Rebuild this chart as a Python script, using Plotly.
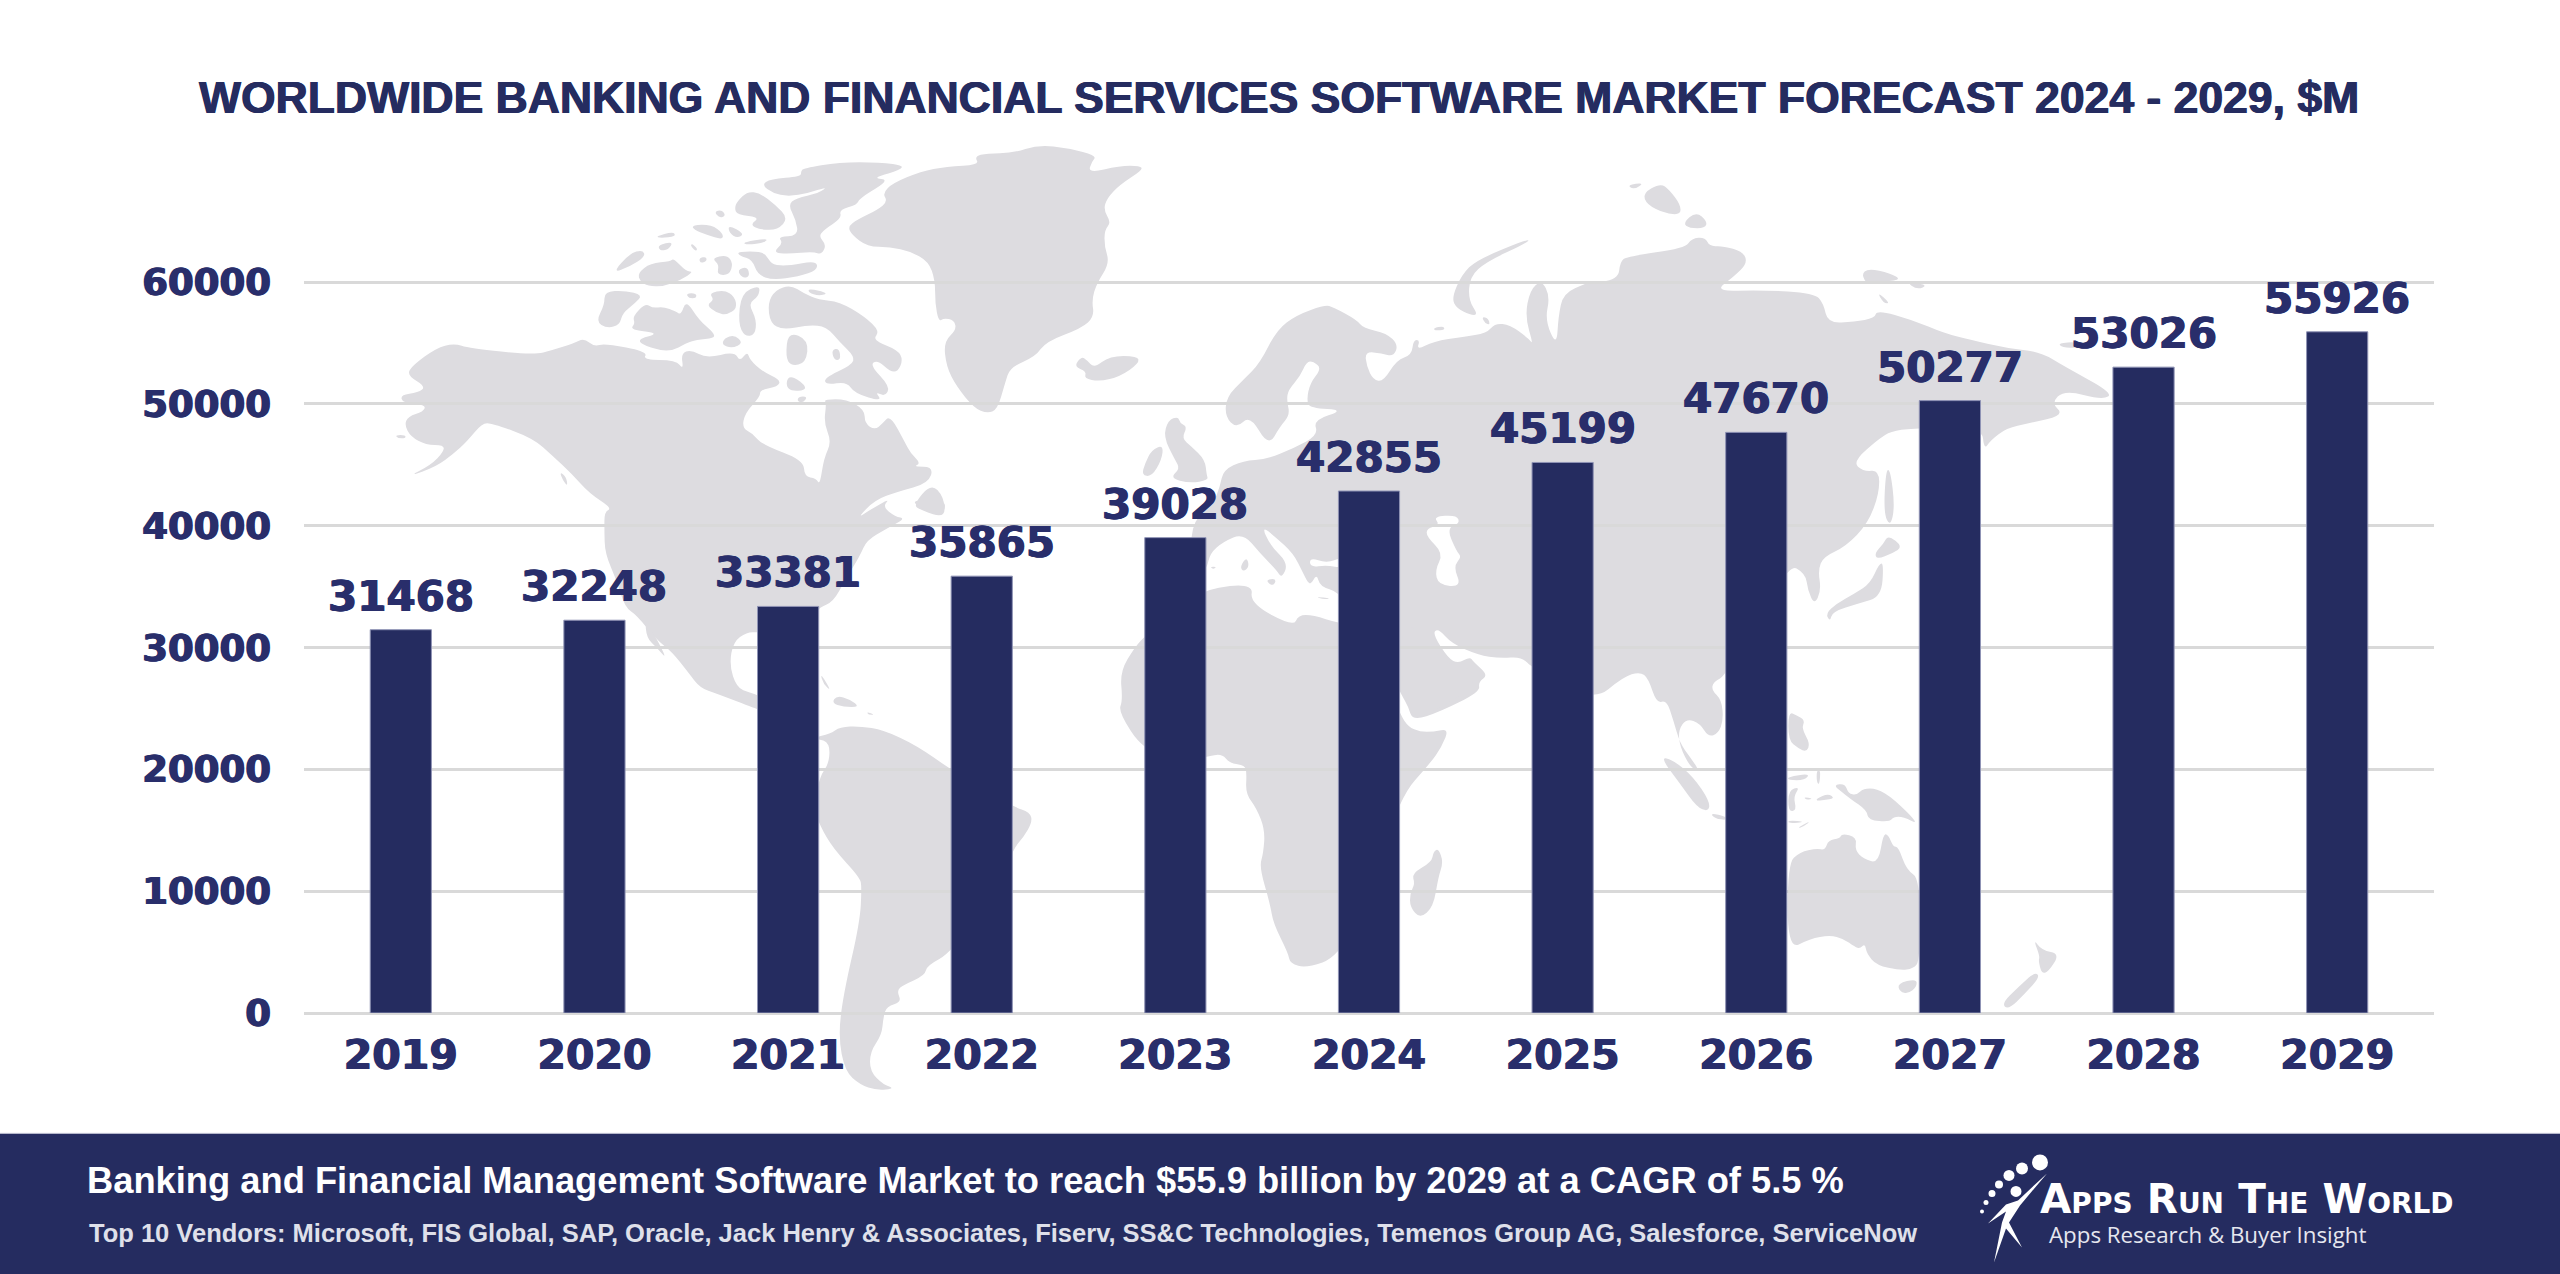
import plotly.graph_objects as go

years = ["2019", "2020", "2021", "2022", "2023", "2024", "2025", "2026", "2027", "2028", "2029"]
market_values = [31468, 32248, 33381, 35865, 39028, 42855, 45199, 47670, 50277, 53026, 55926]
y_ticks = [0, 10000, 20000, 30000, 40000, 50000, 60000]

title_text = "WORLDWIDE BANKING AND FINANCIAL SERVICES SOFTWARE MARKET FORECAST 2024 - 2029, $M"
footer_main = "Banking and Financial Management Software Market to reach $55.9 billion by 2029 at a CAGR of 5.5 %"
footer_vendors = ("Top 10 Vendors: Microsoft, FIS Global, SAP, Oracle, Jack Henry &amp; Associates, Fiserv, "
                  "SS&amp;C Technologies, Temenos Group AG, Salesforce, ServiceNow")

NAVY = "#252c60"
TEXT_NAVY = "#292e6b"
GRID = "#d9d9d9"
MAP = "#dddce0"

# plot area in page pixels. the y range runs a bit past 60000, plotly drops a grid line sitting on the top edge
Y_MAX = 61000
LEFT, RIGHT, BOTTOM = 304, 2434, 1012.7
TOP = BOTTOM - 730.4 * Y_MAX / 60000


def px(x):
    return (x - LEFT) / (RIGHT - LEFT)


def py(y):
    return (BOTTOM - y) / (BOTTOM - TOP)


def z5(pts):
    return [(380 + a / 1.96, 130 + b / 3) for a, b in pts]


def z6(pts):
    return [(600 + a / 3, 500 + b / 2.61) for a, b in pts]


def z7(pts):
    return [(1080 + a / 3, 220 + b / 3) for a, b in pts]


def z8(pts):
    return [(1080 + a / 3, 600 + b / 3) for a, b in pts]


def z9(pts):
    return [(1560 + a / 2.24, 160 + b / 3) for a, b in pts]


def z10(pts):
    return [(1660 + a / 3, 640 + b / 3) for a, b in pts]


def z12(pts):
    return [(1590 + a / 3, 620 + b / 3) for a, b in pts]


def smooth_path(pts):
    # quadratic curves through edge midpoints, keeps the coast lines from looking faceted
    n = len(pts)
    mids = [((pts[i][0] + pts[(i + 1) % n][0]) / 2, (pts[i][1] + pts[(i + 1) % n][1]) / 2) for i in range(n)]
    path = f"M {px(mids[-1][0])},{py(mids[-1][1])}"
    for i in range(n):
        path += f" Q {px(pts[i][0])},{py(pts[i][1])} {px(mids[i][0])},{py(mids[i][1])}"
    return path + " Z"


def straight_path(pts):
    return "M " + " L ".join(f"{px(a)},{py(b)}" for a, b in pts) + " Z"


north_america = (
    z5([(175, 655), (300, 675), (340, 660), (380, 640), (400, 625), (420, 650), (440, 640), (525, 665), (515, 690),
        (580, 690), (595, 720), (590, 670), (610, 660), (640, 685), (695, 665), (705, 695), (720, 665), (725, 690),
        (750, 725), (785, 750), (780, 770), (745, 780), (745, 800), (715, 850), (710, 895), (730, 910), (750, 945),
        (830, 990), (832, 1040), (855, 1045), (862, 1065), (870, 985), (885, 935), (870, 880), (875, 820), (870, 808),
        (915, 808), (950, 840), (950, 880), (970, 900), (985, 880), (1000, 855), (1030, 940), (1040, 970), (1060, 1000),
        (1045, 1010), (1085, 1010), (1075, 1060), (1015, 1085), (970, 1110), (935, 1165), (960, 1140), (1000, 1105),
        (985, 1130), (1010, 1160), (1030, 1165)])
    + z6([(860, 75), (800, 105), (780, 145), (735, 210), (700, 265), (660, 280), (640, 300), (640, 370), (560, 345),
          (475, 345), (440, 345), (400, 370), (388, 430), (410, 490), (450, 503), (480, 510), (480, 548), (470, 545),
          (350, 505), (300, 490), (265, 450), (215, 395), (170, 365), (110, 300), (75, 280), (50, 210), (15, 140),
          (13, 78)])
    + z5([(440, 1145), (455, 1135), (410, 1090), (375, 1030), (340, 980), (300, 925), (220, 880), (200, 880), (170, 935),
          (145, 970), (110, 1010), (55, 1040), (100, 1005), (125, 965), (125, 945), (90, 945), (60, 920), (48, 885),
          (55, 860), (85, 845), (90, 825), (45, 820), (40, 795), (75, 788), (90, 770), (52, 735), (65, 705), (110, 655),
          (145, 640)])
)

south_america = z6([(690, 610), (720, 592), (780, 590), (850, 600), (950, 640), (1055, 705), (1240, 800), (1290, 815),
                    (1297, 840), (1270, 880), (1240, 910), (1200, 1000), (1056, 1180), (980, 1215), (975, 1240),
                    (910, 1265), (890, 1280), (905, 1310), (860, 1320), (850, 1350), (845, 1395), (810, 1440),
                    (810, 1490), (850, 1525), (885, 1535), (830, 1540), (780, 1525), (735, 1490), (715, 1400),
                    (730, 1290), (780, 1100), (785, 1010), (780, 985), (700, 910), (660, 850), (640, 800), (660, 720),
                    (685, 690), (690, 650), (680, 630), (660, 625), (640, 620)])

africa = z8([(198, 105), (165, 140), (120, 215), (128, 300), (115, 335), (190, 450), (300, 480), (381, 470), (425, 460),
             (450, 490), (495, 495), (500, 520), (497, 580), (530, 625), (555, 690), (550, 760), (538, 800), (570, 910),
             (580, 970), (625, 1060), (630, 1090), (680, 1103), (775, 1070), (860, 900), (960, 590), (1050, 490),
             (1085, 440), (1107, 385), (1060, 395), (1020, 395), (985, 380), (962, 345), (900, 200), (850, 70),
             (775, 70), (700, 45), (655, 45), (640, 80), (510, 10), (520, -50), (380, -35), (300, 20)])

eurasia = (
    z7([(430, 965), (390, 1000), (381, 1045), (340, 1090), (330, 1000), (340, 900), (400, 850), (420, 800), (430, 750),
        (490, 722), (560, 718), (640, 685), (715, 645), (700, 600), (795, 570), (690, 565), (680, 540), (690, 490),
        (725, 445), (700, 425), (680, 425), (660, 470), (625, 510), (620, 540), (630, 585), (600, 620), (565, 680),
        (510, 585), (470, 625), (435, 590), (440, 530), (490, 480), (540, 430), (590, 330), (650, 285), (735, 255),
        (760, 262), (830, 300), (850, 325), (920, 340), (955, 375), (940, 410), (905, 400), (855, 395), (860, 440),
        (880, 480), (910, 485), (950, 420), (995, 405), (1000, 360), (1020, 360), (1010, 390), (1060, 365), (1150, 350),
        (1220, 340), (1245, 310), (1290, 315), (1345, 355), (1360, 375), (1335, 290), (1350, 210), (1385, 180),
        (1410, 230), (1395, 300), (1430, 380), (1435, 290), (1450, 220), (1520, 190)])
    + z9([(60, 370), (130, 360), (135, 305), (150, 290), (280, 265), (295, 235), (325, 232), (335, 260), (365, 258),
          (410, 275), (420, 310), (390, 350), (345, 395), (450, 390), (570, 400), (590, 430), (600, 490), (660, 485),
          (705, 475), (710, 450), (790, 480), (860, 520), (920, 540), (1000, 565), (1075, 575), (1130, 620), (1240, 700),
          (1215, 720), (1130, 690), (1100, 730), (1130, 765), (1050, 790), (1000, 805), (965, 840), (950, 870),
          (945, 800), (807, 805), (750, 810), (720, 830), (655, 905), (680, 935), (715, 930), (715, 1000), (690, 1090),
          (640, 1160), (590, 1190), (578, 1230), (585, 1290), (570, 1335), (555, 1290), (550, 1240), (510, 1210)])
    + z12([(410, 165), (370, 185), (365, 210), (395, 240), (400, 300), (385, 340), (355, 350), (330, 310), (290, 295),
           (265, 330), (270, 380), (300, 440), (330, 455), (300, 410), (270, 370), (250, 300), (230, 240), (200, 250),
           (175, 175), (150, 155), (100, 170), (10, 245)])
    + z8([(1358, 205), (1325, 170), (1260, 175), (1195, 165), (1115, 130), (1075, 85), (1057, 100), (1105, 175),
          (1135, 190), (1170, 170), (1180, 185), (1225, 225), (1195, 245), (1200, 275), (1080, 335), (998, 362),
          (985, 320), (962, 280), (900, 150), (850, 70)])
    + z7([(777, 1115), (720, 1100), (710, 1060), (690, 1100), (670, 1060), (640, 1000), (585, 950), (545, 918),
          (570, 975), (625, 1030), (605, 1075), (590, 1050), (540, 1000), (490, 940)])
)

land_shapes = [
    north_america, south_america, africa, eurasia,
    # arabia, fills the gap the smoothed outline leaves along the red sea
    z8([(962, 60), (1040, 110), (1100, 195), (1170, 200), (1190, 250), (1075, 330), (1003, 352), (988, 315), (966, 275)]),
    # greenland, iceland
    z5([(1240, 70), (1290, 45), (1350, 55), (1405, 78), (1395, 95), (1388, 130), (1450, 108), (1490, 108), (1495, 120),
        (1450, 165), (1425, 205), (1418, 240), (1433, 278), (1420, 300), (1420, 350), (1430, 400), (1405, 460),
        (1395, 510), (1400, 560), (1375, 595), (1305, 635), (1285, 680), (1235, 712), (1225, 760), (1210, 840),
        (1190, 850), (1165, 835), (1130, 770), (1110, 710), (1105, 635), (1130, 600), (1125, 570), (1105, 565),
        (1095, 575), (1088, 520), (1088, 450), (1075, 395), (1040, 365), (1000, 352), (955, 350), (925, 315), (917, 290),
        (935, 270), (975, 240), (995, 215), (985, 190), (1005, 160), (1060, 125), (1110, 110), (1175, 105), (1165, 80),
        (1190, 70)]),
    z5([(1375, 680), (1385, 690), (1400, 715), (1430, 678), (1485, 678), (1488, 700), (1450, 740), (1410, 755),
        (1380, 745), (1385, 725), (1360, 710)]),
    # canadian arctic
    z5([(830, 115), (900, 97), (980, 97), (1030, 108), (1010, 125), (965, 145), (1000, 150), (940, 205), (935, 225),
        (900, 240), (905, 265), (870, 300), (860, 320), (875, 345), (865, 375), (850, 365), (800, 372), (770, 368),
        (790, 340), (780, 320), (820, 318), (815, 270), (800, 225), (815, 205), (860, 190), (878, 170), (840, 190),
        (800, 200), (770, 190), (748, 165), (765, 148), (825, 140), (825, 125)]),
    z5([(700, 215), (720, 185), (745, 190), (775, 225), (800, 265), (780, 300), (745, 300), (725, 285), (745, 262),
        (700, 255), (695, 235)]),
    z5([(700, 365), (750, 365), (760, 385), (770, 405), (800, 408), (855, 392), (858, 420), (820, 440), (770, 450),
        (740, 435), (730, 390), (705, 378)]),
    z5([(655, 245), (670, 240), (678, 258), (665, 265)]),
    z5([(612, 285), (650, 285), (672, 310), (672, 330), (640, 315), (615, 300)]),
    z5([(682, 285), (715, 312), (700, 325), (685, 310)]),
    z5([(710, 338), (760, 325), (755, 338), (720, 345)]),
    z5([(540, 320), (575, 305), (580, 320), (550, 325)]),
    z5([(545, 345), (575, 335), (565, 360), (548, 362)]),
    z5([(610, 340), (622, 355), (620, 365), (610, 352)]),
    z5([(625, 385), (640, 380), (640, 395), (628, 400)]),
    z5([(650, 385), (680, 375), (692, 400), (685, 435), (660, 435), (665, 405)]),
    z5([(700, 420), (720, 410), (725, 440), (710, 445)]),
    z5([(455, 430), (490, 370), (515, 360), (520, 380), (490, 410)]),
    z5([(505, 430), (530, 400), (570, 395), (575, 385), (600, 425), (615, 425), (590, 450), (555, 470), (525, 468),
        (510, 455)]),
    z5([(440, 485), (480, 482), (515, 495), (500, 520), (475, 550), (470, 585), (445, 595), (423, 575), (440, 525)]),
    z5([(495, 560), (520, 520), (535, 535), (555, 530), (580, 545), (590, 555), (600, 510), (625, 570), (655, 610),
        (655, 625), (620, 630), (600, 640), (570, 665), (530, 655), (500, 630), (550, 610), (490, 600), (500, 580)]),
    z5([(645, 490), (675, 480), (695, 500), (700, 535), (680, 555), (660, 550), (640, 525), (655, 510)]),
    z5([(600, 490), (620, 490), (620, 505), (605, 505)]),
    z5([(675, 625), (695, 615), (712, 640), (690, 655), (670, 645)]),
    z5([(760, 520), (775, 480), (805, 465), (830, 490), (860, 510), (900, 515), (950, 560), (980, 605), (965, 630),
        (1015, 660), (1025, 690), (1015, 725), (1000, 725), (975, 690), (960, 705), (1000, 770), (990, 800), (970, 785),
        (985, 815), (930, 790), (915, 755), (875, 765), (870, 745), (925, 705), (930, 680), (900, 635), (875, 590),
        (840, 585), (790, 600), (765, 580)]),
    z5([(840, 475), (880, 490), (860, 498), (840, 488)]),
    z5([(885, 660), (900, 655), (903, 690), (890, 690)]),
    z5([(708, 490), (745, 465), (742, 500), (722, 520), (738, 570), (735, 615), (715, 620), (702, 580)]),
    z5([(800, 605), (840, 630), (835, 700), (805, 708), (795, 680)]),
    z5([(800, 728), (845, 780), (795, 785)]),
    z5([(820, 800), (838, 800), (830, 818), (818, 815)]),
    z5([(1080, 1060), (1105, 1100), (1108, 1165), (1060, 1140), (1045, 1125)]),
    z5([(352, 1025), (365, 1040), (368, 1070), (358, 1050)]),
    z5([(30, 915), (50, 915), (50, 925), (35, 925)]),
    # caribbean, newfoundland, baja
    z6([(660, 450), (695, 500), (670, 480)]),
    z6([(710, 510), (750, 520), (780, 540), (730, 540), (695, 530)]),
    z6([(800, 552), (825, 560), (805, 560)]),
    z6([(940, 0), (1035, 0), (1035, 30), (1000, 35), (950, 15)]),
    z6([(135, 310), (175, 370), (200, 415), (170, 385), (140, 360)]),
    # europe islands
    z7([(265, 600), (295, 590), (300, 610), (322, 620), (305, 655), (335, 680), (375, 720), (380, 765), (385, 780),
        (330, 790), (270, 775), (300, 745), (285, 720), (250, 650)]),
    z7([(215, 690), (250, 675), (245, 720), (215, 770), (185, 765), (195, 730)]),
    z7([(705, 1130), (755, 1135), (730, 1138)]),
    z7([(480, 1040), (500, 1010), (508, 1040), (490, 1055)]),
    z7([(390, 1040), (410, 1040), (400, 1048)]),
    z7([(555, 1080), (590, 1075), (580, 1100)]),
    # russian arctic
    z7([(1115, 235), (1145, 165), (1190, 120), (1350, 55), (1340, 70), (1220, 125), (1170, 170), (1165, 240),
        (1195, 285), (1170, 285), (1130, 265)]),
    z7([(1060, 325), (1090, 318), (1095, 330), (1065, 332)]),
    z7([(1205, 290), (1225, 295), (1230, 315), (1215, 310)]),
    z9([(185, 100), (225, 70), (245, 90), (270, 135), (270, 165), (235, 160), (195, 135)]),
    z9([(150, 75), (190, 68), (165, 90)]),
    z9([(275, 190), (305, 155), (330, 185), (325, 205), (290, 205)]),
    z9([(675, 345), (690, 325), (740, 340), (765, 360), (720, 365), (690, 375)]),
    z9([(775, 365), (825, 375), (800, 390)]),
    z9([(710, 395), (740, 430), (725, 430)]),
    z9([(1115, 550), (1160, 545), (1160, 565), (1125, 562)]),
    # japan, sakhalin
    z9([(730, 930), (740, 930), (750, 1040), (740, 1100), (725, 1060)]),
    z9([(735, 1125), (768, 1160), (745, 1180), (710, 1198), (705, 1180), (725, 1150)]),
    z9([(715, 1210), (725, 1210), (720, 1310), (670, 1330), (610, 1355), (605, 1385), (595, 1360), (620, 1330),
        (660, 1300), (695, 1270)]),
    # south east asia
    z12([(210, 410), (250, 420), (310, 470), (360, 545), (355, 575), (320, 560), (270, 490)]),
    z12([(360, 578), (410, 590), (410, 600), (375, 595)]),
    z10([(385, 215), (410, 225), (435, 240), (425, 265), (450, 310), (440, 335), (415, 325), (385, 300)]),
    z10([(383, 410), (450, 400), (435, 420), (385, 420)]),
    z10([(385, 450), (420, 440), (400, 470), (410, 510), (385, 515)]),
    z10([(470, 390), (482, 390), (478, 435), (470, 425)]),
    z10([(410, 565), (455, 540), (430, 560)]),
    z10([(430, 470), (460, 475), (440, 480)]),
    z10([(470, 475), (505, 460), (525, 475), (490, 480), (470, 482)]),
    z10([(385, 540), (440, 545), (385, 550)]),
    z10([(520, 435), (555, 430), (565, 460), (590, 465), (610, 445), (650, 445), (700, 475), (780, 555), (730, 530),
         (700, 530), (690, 545), (625, 540), (620, 510), (570, 475), (545, 455)]),
    # australia, tasmania, new zealand, madagascar
    z10([(383, 670), (420, 635), (470, 625), (495, 630), (505, 600), (540, 595), (545, 580), (590, 590), (585, 630),
         (610, 655), (655, 670), (670, 580), (685, 585), (700, 620), (715, 620), (740, 690), (780, 715), (780, 960),
         (760, 985), (720, 990), (650, 975), (620, 940), (615, 910), (600, 925), (585, 920), (550, 895), (510, 885),
         (450, 895), (383, 930)]),
    z10([(712, 1030), (770, 1015), (770, 1040), (745, 1060), (720, 1055)]),
    z10([(1120, 895), (1145, 930), (1200, 940), (1165, 995), (1145, 1000), (1135, 960), (1140, 950)]),
    z10([(1125, 995), (1140, 1010), (1095, 1060), (1045, 1108), (1025, 1090), (1075, 1040)]),
    z8([(1075, 745), (1090, 785), (1075, 830), (1060, 920), (1020, 955), (990, 920), (990, 880), (1005, 850), (995, 820),
        (1055, 785), (1060, 755)]),
]

water_shapes = [
    # black sea and caspian
    z7([(690, 1012), (740, 1030), (790, 1010), (790, 1045), (740, 1035), (690, 1042)]),
    z7([(1060, 890), (1130, 885), (1140, 910), (1100, 925), (1130, 995), (1145, 1010), (1120, 1040), (1145, 1100),
        (1075, 1095), (1065, 1050), (1090, 1000), (1040, 950), (1040, 925), (1080, 915)]),
]

shapes = [dict(type="path", xref="paper", yref="paper", layer="below", path=smooth_path(p), fillcolor=MAP,
               line_width=0) for p in land_shapes]
shapes += [dict(type="path", xref="paper", yref="paper", layer="below", path=smooth_path(p), fillcolor="white",
                line_width=0) for p in water_shapes]

# footer band
shapes.append(dict(type="rect", xref="paper", yref="paper", layer="below", x0=px(-5), x1=px(2565), y0=py(1133),
                   y1=py(1280), fillcolor=NAVY, line=dict(color="#c5c7d6", width=1)))

# logo: trail of dots and the running figure
logo_dots = [(2040, 1162, 8), (2022, 1168, 6), (2009, 1175, 5.5), (1999, 1184, 4), (1992, 1193, 3.5), (1986, 1202, 2.5),
             (1982, 1211, 2), (2016, 1191, 5.5)]
for cx, cy, r in logo_dots:
    shapes.append(dict(type="circle", xref="paper", yref="paper", x0=px(cx - r), x1=px(cx + r), y0=py(cy + r),
                       y1=py(cy - r), fillcolor="white", line_width=0))
logo_figure = [(2047, 1173), (2020, 1205), (2009, 1222), (2022, 1247), (2006, 1228), (1994, 1262), (2002, 1222),
               (2006, 1211), (1988, 1223), (2006, 1204), (2018, 1200)]
shapes.append(dict(type="path", xref="paper", yref="paper", path=straight_path(logo_figure), fillcolor="white",
                   line_width=0))


def text_at(x, y, text, family, size, color, weight=400, xanchor="left", shadow="none"):
    return dict(xref="paper", yref="paper", x=px(x), y=py(y), text=text, showarrow=False, xanchor=xanchor,
                yanchor="middle", font=dict(family=family, size=size, color=color, weight=weight, shadow=shadow))


# the reference lettering is heavier than the bold fonts here, a tight shadow thickens it
heavy_navy = "0.6px 0 0 #252c60, -0.6px 0 0 #252c60"
heavy_label = "0.7px 0 0 #292e6b, -0.7px 0 0 #292e6b"

annotations = [
    text_at(1279, 98, title_text, "Liberation Sans", 44.5, NAVY, 700, "center", heavy_navy),
    text_at(85, 1180, footer_main, "Liberation Sans", 36.3, "white", 700),
    text_at(87, 1233, footer_vendors, "Liberation Sans", 25.5, "#dfe0ea", 700),
    text_at(2038, 1199, 'A<span style="font-size:28px">PPS</span> R<span style="font-size:28px">UN</span> '
            'T<span style="font-size:28px">HE</span> W<span style="font-size:28px">ORLD</span>',
            "DejaVu Sans", 40.5, "white", 700),
    text_at(2047, 1234, "Apps Research &amp; Buyer Insight", "Open Sans", 22.3, "#e6e7ef"),
]

# value labels above the bars, placed on the bar axes by category position
for i, value in enumerate(market_values):
    annotations.append(dict(xref="x", yref="y", x=i, y=value, text=str(value), showarrow=False, yanchor="bottom",
                            yshift=7, font=dict(family="DejaVu Sans", size=42, color=TEXT_NAVY, weight=700,
                                                shadow=heavy_label)))

fig = go.Figure(go.Bar(x=years, y=market_values, marker_color=NAVY, marker_line=dict(color="#8f93b5", width=1)))

fig.update_layout(
    width=2560,
    height=1274,
    margin=dict(l=LEFT, r=2560 - RIGHT, t=TOP, b=1274 - BOTTOM),
    paper_bgcolor="white",
    plot_bgcolor="rgba(0,0,0,0)",
    bargap=0.684,
    showlegend=False,
    shapes=shapes,
    annotations=annotations,
)
fig.update_xaxes(type="category", range=[-0.5, 10.5],
                 tickfont=dict(family="DejaVu Sans", size=41, color=TEXT_NAVY, weight=700, shadow=heavy_label),
                 ticks="", ticklabelstandoff=14, showgrid=False, zeroline=False, showline=False)
fig.update_yaxes(range=[0, Y_MAX], tickvals=y_ticks, tickformat="d",
                 tickfont=dict(family="DejaVu Sans", size=37, color=TEXT_NAVY, weight=700, shadow=heavy_label),
                 ticks="", ticklabelstandoff=32, gridcolor=GRID, gridwidth=3, zerolinecolor=GRID, zerolinewidth=3,
                 showline=False)

# the page body has a default margin that would shift everything by 8px
fig.write_html("out.html", config={"displayModeBar": False}, post_script="document.body.style.margin = '0';")
